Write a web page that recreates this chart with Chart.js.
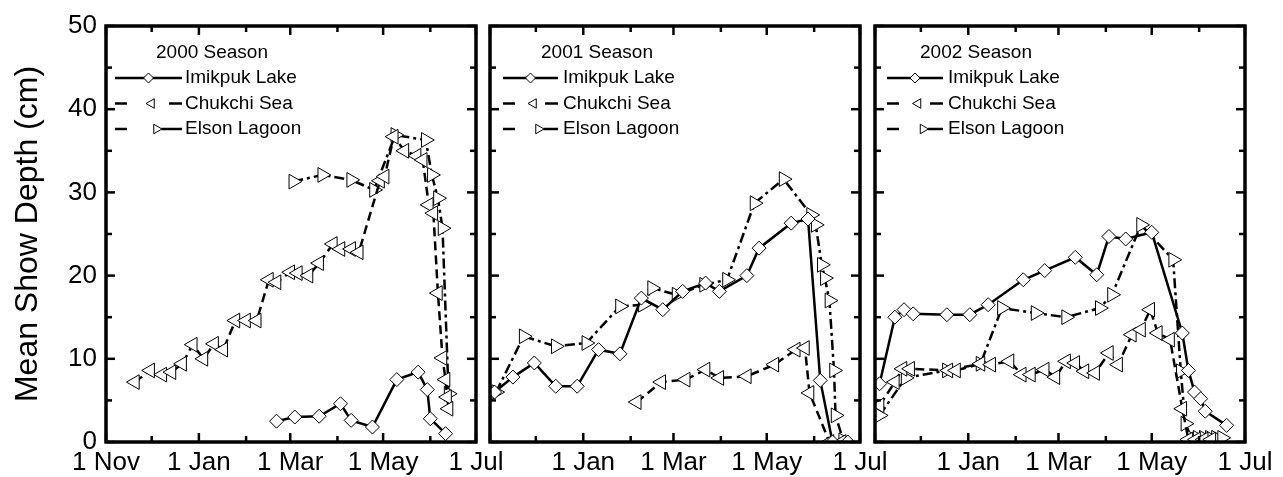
<!DOCTYPE html>
<html>
<head>
<meta charset="utf-8">
<script src="https://cdn.jsdelivr.net/npm/chart.js@4.4.0/dist/chart.umd.min.js"></script>
<style>
  body { margin: 0; background: #fff; width: 1283px; height: 477px; position: relative; overflow: hidden; }
  canvas { position: absolute; top: 0; }
</style>
</head>
<body>
<canvas id="c1" width="520" height="477" style="left:0px"></canvas>
<canvas id="c2" width="440" height="477" style="left:460px"></canvas>
<canvas id="c3" width="438" height="477" style="left:845px"></canvas>
<script>
// x values are days counted from 1 Nov of each season
const SITE_NAMES = ['Imikpuk Lake', 'Chukchi Sea', 'Elson Lagoon'];
const SEASON_TITLES = ['2000 Season', '2001 Season', '2002 Season'];
const SEASON_END = [243, 242, 242];
const TICK_DAYS_2000 = [0, 30, 61, 92, 121, 152, 182, 213, 243];
const TICK_DAYS_2001 = [0, 30, 61, 92, 120, 151, 181, 212, 242];
const TICK_DAYS_2002 = [0, 30, 61, 92, 120, 151, 181, 212, 242];
const TICK_LABELS_FIRST = ['1 Nov', '', '1 Jan', '', '1 Mar', '', '1 May', '', '1 Jul'];
const TICK_LABELS_OTHER = ['', '', '1 Jan', '', '1 Mar', '', '1 May', '', '1 Jul'];

// 2000 season
const imik2000Days = [112, 124, 140, 154, 161, 175, 191, 205, 211, 213, 223];
const imik2000 = [2.5, 3.0, 3.1, 4.6, 2.6, 1.8, 7.5, 8.4, 6.3, 2.8, 1.0];
const chuk2000Days = [19, 29, 37, 43, 50, 57, 64, 71, 77, 85, 92, 99, 107, 112, 121, 126, 133, 140, 149, 154, 161, 166, 180, 183, 189, 196, 204, 208, 212, 215, 218, 221, 223, 224, 225];
const chuk2000 = [7.2, 8.6, 8.1, 8.4, 9.4, 11.7, 10.0, 11.8, 11.1, 14.6, 14.6, 14.6, 19.5, 19.2, 20.4, 20.3, 20.0, 21.5, 23.8, 23.2, 23.2, 22.8, 31.4, 31.9, 36.7, 35.0, 34.4, 33.9, 28.5, 27.5, 17.9, 10.1, 7.5, 5.4, 4.0];
const elson2000Days = [123, 142, 161, 176, 190, 210, 214, 218, 221, 225];
const elson2000 = [31.3, 32.1, 31.5, 30.3, 36.9, 36.3, 32.1, 29.3, 25.7, 5.8];

// 2001 season
const imik2001Days = [3, 15, 29, 43, 57, 71, 85, 99, 113, 126, 141, 150, 168, 176, 197, 208, 216, 224, 234];
const imik2001 = [6.0, 7.8, 9.5, 6.7, 6.7, 11.1, 10.6, 17.3, 15.9, 18.1, 19.1, 18.1, 20.0, 23.3, 26.3, 26.8, 7.4, 0, 0];
const chuk2001Days = [96, 112, 128, 141, 150, 168, 186, 200, 206, 209, 222, 230];
const chuk2001 = [4.8, 7.2, 7.5, 8.7, 7.7, 7.9, 9.3, 11.1, 11.3, 5.9, 0, 0];
const elson2001Days = [4, 22, 43, 63, 85, 100, 106, 122, 140, 155, 173, 192, 210, 213, 217, 219, 222, 225, 226, 231];
const elson2001 = [6.0, 12.7, 11.5, 11.9, 16.3, 16.5, 18.5, 17.7, 18.9, 19.5, 28.7, 31.6, 27.3, 26.1, 21.3, 19.7, 17.0, 8.6, 3.2, 0.2];

// 2002 season
const imik2002Days = [3, 13, 19, 25, 47, 62, 74, 97, 111, 131, 145, 153, 164, 181, 201, 205, 209, 213, 216, 230];
const imik2002 = [7.0, 15.0, 15.9, 15.4, 15.3, 15.3, 16.5, 19.5, 20.6, 22.2, 20.1, 24.7, 24.4, 25.2, 13.1, 8.6, 6.0, 5.2, 3.7, 2.0];
const chuk2002Days = [3, 13, 18, 23, 48, 53, 69, 76, 88, 96, 102, 111, 118, 125, 131, 137, 144, 153, 159, 168, 174, 180, 185, 193, 201, 205, 210, 215, 220];
const chuk2002 = [4.4, 7.2, 8.8, 8.8, 8.6, 8.6, 9.4, 9.3, 9.7, 8.1, 8.1, 8.7, 7.8, 9.7, 9.5, 8.5, 8.3, 10.7, 9.3, 12.9, 13.5, 15.9, 13.1, 12.3, 4.0, 0.3, 0.3, 0.3, 0.3];
const elson2002Days = [3, 20, 47, 69, 83, 105, 125, 147, 155, 174, 195, 200, 203, 207, 211, 215, 219, 223, 227];
const elson2002 = [3.2, 7.7, 8.6, 9.4, 16.1, 15.5, 15.0, 16.1, 17.7, 26.1, 21.9, 8.5, 2.2, 0.5, 0.5, 0.5, 0.5, 0.5, 0.5];

const FONT = '"Liberation Sans", Arial, sans-serif';
Chart.defaults.font.family = FONT;
Chart.defaults.color = '#000';

// marker + line style per site (same order as SITE_NAMES)
const SITE_STYLES = [
  { pointStyle: 'rectRot', rotation: 0, radius: 7, legendRadius: 5, dash: [] },
  { pointStyle: 'triangle', rotation: -90, radius: 8.5, legendRadius: 5.5, dash: [9, 5] },
  { pointStyle: 'triangle', rotation: 90, radius: 8.5, legendRadius: 5.5, dash: [10, 4, 3, 4] }
];

function toPoints(days, vals) {
  return days.map((d, i) => ({ x: d, y: vals[i] }));
}

// own marker drawing for the legend samples
function drawMarker(ctx, style, r, x, y) {
  ctx.beginPath();
  if (style.pointStyle === 'rectRot') {
    ctx.moveTo(x - r, y); ctx.lineTo(x, y - r); ctx.lineTo(x + r, y); ctx.lineTo(x, y + r);
  } else {
    let rad = style.rotation * Math.PI / 180;
    for (let k = 0; k < 3; k++) {
      const px = x + Math.sin(rad) * r, py = y - Math.cos(rad) * r;
      if (k === 0) ctx.moveTo(px, py); else ctx.lineTo(px, py);
      rad += 2 * Math.PI / 3;
    }
  }
  ctx.closePath();
  ctx.fillStyle = '#fff';
  ctx.fill();
  ctx.lineWidth = 1;
  ctx.setLineDash([]);
  ctx.stroke();
}

// box round the plot with inward ticks on all four sides
const framePlugin = {
  id: 'frame',
  afterDraw(chart) {
    const { ctx, chartArea: a, scales: { x, y } } = chart;
    ctx.save();
    ctx.strokeStyle = '#000';
    ctx.setLineDash([]);
    ctx.lineWidth = 2.5;
    const tick = (x1, y1, x2, y2) => { ctx.beginPath(); ctx.moveTo(x1, y1); ctx.lineTo(x2, y2); ctx.stroke(); };
    x.ticks.forEach((t, i) => {
      const px = x.getPixelForValue(t.value);
      const len = i % 2 === 0 ? 9 : 6;
      tick(px, a.bottom, px, a.bottom - len);
      tick(px, a.top, px, a.top + len);
    });
    for (let v = 0; v <= 50; v += 5) {
      const py = y.getPixelForValue(v);
      const len = v % 10 === 0 ? 9 : 6;
      tick(a.left, py, a.left + len, py);
      tick(a.right, py, a.right - len, py);
    }
    ctx.lineWidth = 3.5;
    ctx.strokeRect(a.left, a.top, a.right - a.left, a.bottom - a.top);
    ctx.restore();
  }
};

const seasonLegend = {
  id: 'seasonLegend',
  afterDraw(chart, args, o) {
    const { ctx, chartArea: a } = chart;
    ctx.save();
    ctx.fillStyle = '#000';
    ctx.strokeStyle = '#000';
    ctx.font = '19px ' + FONT;
    ctx.textBaseline = 'middle';
    ctx.textAlign = 'center';
    ctx.fillText(o.title, a.left + o.titleX, a.top + 27);
    SITE_NAMES.forEach((name, i) => {
      const y = a.top + 52 + i * 25.5;
      const x0 = a.left + o.x0, x1 = a.left + o.x1, mid = (x0 + x1) / 2;
      let segs, mx;
      if (i === 0) { segs = [[x0, x1]]; mx = mid; }
      else if (i === 1) { segs = [[x0, x0 + 12], [x1 - 13, x1]]; mx = mid + 3; }
      else { segs = [[x0, x0 + 12], [mid + 13, x1]]; mx = mid + 8; }
      ctx.lineWidth = 2.5;
      ctx.setLineDash([]);
      segs.forEach(([s, e]) => { ctx.beginPath(); ctx.moveTo(s, y); ctx.lineTo(e, y); ctx.stroke(); });
      drawMarker(ctx, SITE_STYLES[i], SITE_STYLES[i].legendRadius, mx, y);
      ctx.fillStyle = '#000';
      ctx.textAlign = 'left';
      ctx.fillText(name, a.left + o.textX, y);
    });
    ctx.restore();
  }
};

function makePanel(canvasId, idx, tickDays, tickLabels, series, showY, pad, legendPos) {
  const datasets = series.map((s, i) => {
    const st = SITE_STYLES[i];
    return {
      label: SITE_NAMES[i],
      data: toPoints(s[0], s[1]),
      borderColor: '#000',
      borderWidth: 2.5,
      borderDash: st.dash,
      tension: 0,
      pointStyle: st.pointStyle,
      pointRotation: st.rotation,
      pointRadius: st.radius,
      pointBackgroundColor: '#fff',
      pointBorderColor: '#000',
      pointBorderWidth: 1
    };
  });

  const yAxis = {
    min: 0,
    max: 50,
    display: showY,
    grid: { display: false, drawTicks: false },
    border: { display: false },
    ticks: { stepSize: 10, padding: 9, font: { size: 26 }, color: '#000' },
    title: {
      display: true,
      text: 'Mean Show Depth (cm)',
      font: { size: 32 },
      color: '#000',
      padding: { top: 9, bottom: 0 }
    }
  };
  if (showY) {
    yAxis.afterFit = (scale) => { scale.width = 106; };
  }

  new Chart(document.getElementById(canvasId), {
    type: 'line',
    data: { datasets: datasets },
    options: {
      responsive: false,
      animation: false,
      events: [],
      layout: { padding: { left: pad[0], right: pad[1], top: 26, bottom: 0 } },
      plugins: {
        legend: { display: false },
        tooltip: { enabled: false },
        seasonLegend: Object.assign({ title: SEASON_TITLES[idx] }, legendPos)
      },
      scales: {
        x: {
          type: 'linear',
          min: 0,
          max: SEASON_END[idx],
          afterBuildTicks: (scale) => { scale.ticks = tickDays.map(v => ({ value: v })); },
          afterFit: (scale) => { scale.height = 35; },
          grid: { display: false, drawTicks: false },
          border: { display: false },
          ticks: {
            autoSkip: false,
            maxRotation: 0,
            padding: 5,
            font: { size: 26 },
            color: '#000',
            callback: (value, index) => tickLabels[index]
          }
        },
        y: yAxis
      }
    },
    plugins: [framePlugin, seasonLegend]
  });
}

makePanel('c1', 0, TICK_DAYS_2000, TICK_LABELS_FIRST,
  [[imik2000Days, imik2000], [chuk2000Days, chuk2000], [elson2000Days, elson2000]],
  true, [0, 44], { titleX: 106, x0: 9, x1: 76, textX: 79 });
makePanel('c2', 1, TICK_DAYS_2001, TICK_LABELS_OTHER,
  [[imik2001Days, imik2001], [chuk2001Days, chuk2001], [elson2001Days, elson2001]],
  false, [30, 40], { titleX: 107, x0: 13, x1: 68, textX: 73 });
makePanel('c3', 2, TICK_DAYS_2002, TICK_LABELS_OTHER,
  [[imik2002Days, imik2002], [chuk2002Days, chuk2002], [elson2002Days, elson2002]],
  false, [30, 38], { titleX: 101, x0: 12, x1: 68, textX: 73 });
</script>
</body>
</html>
